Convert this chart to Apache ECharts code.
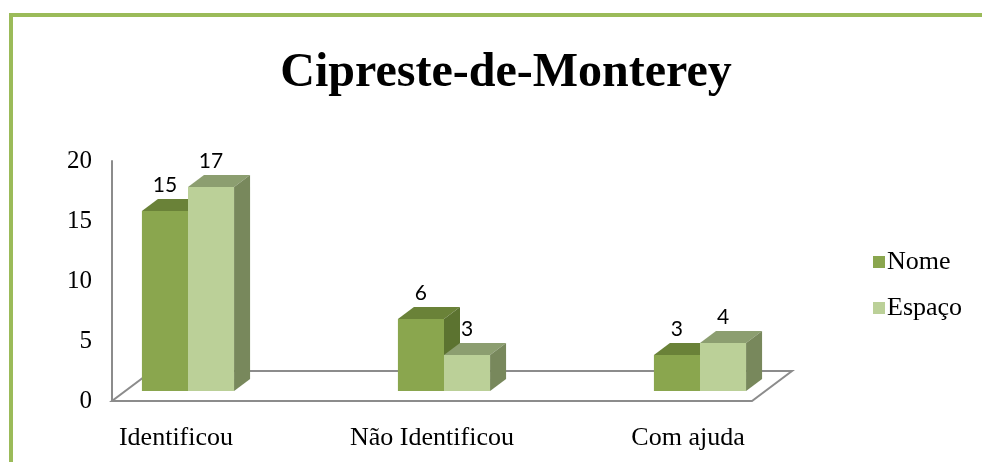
<!DOCTYPE html>
<html>
<head>
<meta charset="utf-8">
<script src="https://cdn.jsdelivr.net/npm/echarts@6/dist/echarts.min.js"></script>
<style>
  html, body { margin: 0; padding: 0; background: #fff; }
  #chart { width: 982px; height: 462px; }
</style>
</head>
<body>
<div id="chart"></div>
<script>
// data
var categories = ['Identificou', 'Não Identificou', 'Com ajuda']
var nome = [15, 6, 3]
var espaco = [17, 3, 4]
var yTicks = [0, 5, 10, 15, 20]

// x range of the floor (category index units)
var X_MIN = -0.25
var X_MAX = 2.25

var colors = {
  nome: { front: '#8aa64e', top: '#6a8238', side: '#5c7330' },
  espaco: { front: '#bbd098', top: '#8c9e70', side: '#78885c' }
}

var chart = echarts.init(document.getElementById('chart'))

function barRenderer(key, left) {
  return function (params, api) {
    var x = api.value(0)
    var v = api.value(1)
    var base = api.coord([x, 0])
    var top = api.coord([x, v])
    var w = api.size([0.18, 0])[0]
    var fdx = 12, fdy = -10 // front plane of the bars
    var dx = 16, dy = -12 // bar depth
    var x0 = base[0] + fdx + (left ? -w : 0)
    var x1 = x0 + w
    var yTop = top[1] + fdy
    var yBot = base[1] + fdy
    var c = colors[key]
    return {
      type: 'group',
      children: [
        { type: 'polygon', shape: { points: [[x0, yTop], [x1, yTop], [x1, yBot], [x0, yBot]] }, style: { fill: c.front } },
        { type: 'polygon', shape: { points: [[x0, yTop], [x1, yTop], [x1 + dx, yTop + dy], [x0 + dx, yTop + dy]] }, style: { fill: c.top } },
        { type: 'polygon', shape: { points: [[x1, yTop], [x1 + dx, yTop + dy], [x1 + dx, yBot + dy], [x1, yBot]] }, style: { fill: c.side } },
        {
          type: 'text',
          x: x0 + w / 2,
          y: yTop + dy - 3,
          style: {
            text: String(v),
            fill: '#000',
            font: '21px Lato, "Liberation Sans", sans-serif',
            align: 'center',
            verticalAlign: 'bottom'
          }
        }
      ]
    }
  }
}

function floorRenderer(params, api) {
  var p0 = api.coord([X_MIN, 0])
  var p1 = api.coord([X_MAX, 0])
  var dx = 40, dy = -30
  return {
    type: 'polygon',
    shape: { points: [p0, p1, [p1[0] + dx, p1[1] + dy], [p0[0] + dx, p0[1] + dy]] },
    style: { fill: 'none', stroke: '#8c8c8c', lineWidth: 2 }
  }
}

var serif = '"Liberation Serif", "DejaVu Serif", serif'

var option = {
  animation: false,
  backgroundColor: '#fff',
  title: {
    text: 'Cipreste-de-Monterey',
    left: 501,
    textAlign: 'center',
    top: 45,
    textStyle: {
      fontFamily: serif,
      fontWeight: 'bold',
      fontSize: 48,
      color: '#000'
    }
  },
  graphic: [
    { type: 'rect', shape: { x: 9, y: 13, width: 973, height: 4 }, style: { fill: '#9bbb59' } },
    { type: 'rect', shape: { x: 9, y: 13, width: 4, height: 449 }, style: { fill: '#9bbb59' } }
  ],
  legend: {
    data: ['Nome', 'Espaço'],
    orient: 'vertical',
    left: 868,
    top: 244,
    icon: 'rect',
    itemWidth: 12,
    itemHeight: 12,
    itemGap: 20,
    textStyle: {
      fontFamily: serif,
      fontSize: 26,
      color: '#000',
      padding: [0, 0, 0, -3]
    }
  },
  grid: { left: 112, top: 161, width: 640, height: 240 },
  xAxis: {
    type: 'value',
    min: X_MIN,
    max: X_MAX,
    axisLine: { show: false },
    axisTick: { show: false },
    splitLine: { show: false },
    axisLabel: {
      customValues: [0, 1, 2],
      formatter: function (v) { return categories[Math.round(v)] },
      margin: 24,
      fontFamily: serif,
      fontSize: 26,
      color: '#000'
    }
  },
  yAxis: {
    type: 'value',
    min: yTicks[0],
    max: yTicks[yTicks.length - 1],
    interval: 5,
    axisLine: { show: true, onZero: false, lineStyle: { color: '#8c8c8c', width: 2 } },
    axisTick: { show: false },
    splitLine: { show: false },
    axisLabel: {
      margin: 20,
      fontFamily: serif,
      fontSize: 25,
      color: '#000'
    }
  },
  series: [
    {
      type: 'custom',
      silent: true,
      renderItem: floorRenderer,
      data: [[0, 0]],
      z: 1
    },
    {
      name: 'Nome',
      type: 'custom',
      renderItem: barRenderer('nome', true),
      itemStyle: { color: colors.nome.front },
      data: nome.map(function (v, i) { return [i, v] }),
      z: 2
    },
    {
      name: 'Espaço',
      type: 'custom',
      renderItem: barRenderer('espaco', false),
      itemStyle: { color: colors.espaco.front },
      data: espaco.map(function (v, i) { return [i, v] }),
      z: 3
    }
  ]
}

option && chart.setOption(option)
</script>
</body>
</html>
